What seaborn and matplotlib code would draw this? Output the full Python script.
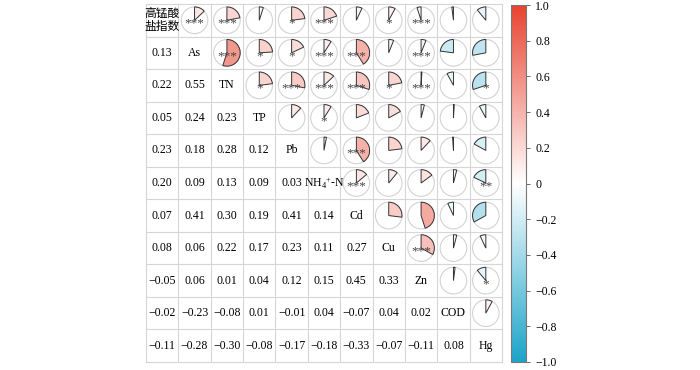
import numpy as np
import pandas as pd
import matplotlib
matplotlib.use("Agg")
import matplotlib.pyplot as plt
from matplotlib.colors import LinearSegmentedColormap, ListedColormap, Normalize
from matplotlib.patches import Wedge, Circle
import matplotlib.cm as cm
import seaborn as sns

labels = ["高锰酸\n盐指数", "As", "TN", "TP", "Pb", r"NH$_4$$^{+}$-N", "Cd", "Cu", "Zn", "COD", "Hg"]

# lower-triangle correlation values, row by row
r_as = [0.13]
r_tn = [0.22, 0.55]
r_tp = [0.05, 0.24, 0.23]
r_pb = [0.23, 0.18, 0.28, 0.12]
r_nh = [0.20, 0.09, 0.13, 0.09, 0.03]
r_cd = [0.07, 0.41, 0.30, 0.19, 0.41, 0.14]
r_cu = [0.08, 0.06, 0.22, 0.17, 0.23, 0.11, 0.27]
r_zn = [-0.05, 0.06, 0.01, 0.04, 0.12, 0.15, 0.45, 0.33]
r_cod = [-0.02, -0.23, -0.08, 0.01, -0.01, 0.04, -0.07, 0.04, 0.02]
r_hg = [-0.11, -0.28, -0.30, -0.08, -0.17, -0.18, -0.33, -0.07, -0.11, 0.08]
lower_rows = [[], r_as, r_tn, r_tp, r_pb, r_nh, r_cd, r_cu, r_zn, r_cod, r_hg]

# significance markers for upper triangle, row by row (columns i+1..10)
s_0 = ["***", "***", "", "*", "***", "", "*", "***", "", ""]
s_1 = ["***", "*", "*", "***", "***", "", "***", "", ""]
s_2 = ["*", "***", "***", "***", "*", "***", "", "*"]
s_3 = ["", "*", "", "", "", "", ""]
s_4 = ["", "***", "", "", "", ""]
s_5 = ["***", "", "", "", "**"]
s_6 = ["", "", "", ""]
s_7 = ["***", "", ""]
s_8 = ["", "*"]
s_9 = [""]
sig_rows = [s_0, s_1, s_2, s_3, s_4, s_5, s_6, s_7, s_8, s_9]

n = len(labels)
R = np.eye(n)
for i, row in enumerate(lower_rows):
    for j, v in enumerate(row):
        R[i, j] = v
        R[j, i] = v

plt.rcParams['font.family'] = ['Liberation Serif', 'Noto Sans CJK SC']
plt.rcParams['mathtext.fontset'] = 'custom'
plt.rcParams['mathtext.rm'] = 'Liberation Serif'
plt.rcParams['mathtext.it'] = 'Liberation Serif:italic'

cmap = LinearSegmentedColormap.from_list("bwr_c", ["#1BA3C8", "#FFFFFF", "#E8432F"])
norm = Normalize(-1, 1)

fig = plt.figure(figsize=(7, 3.7), dpi=100)
ax = fig.add_axes([146/700, 1 - 362/370, 356/700, 358/370])

df = pd.DataFrame(np.zeros((n, n)))
sns.heatmap(df, ax=ax, cmap=ListedColormap(["white"]), cbar=False,
            linewidths=0, xticklabels=False, yticklabels=False)
for k in range(n + 1):
    ax.axhline(k, color="#d6d6d6", lw=0.8, zorder=1, clip_on=False)
    ax.axvline(k, color="#d6d6d6", lw=0.8, zorder=1, clip_on=False)
for sp in ax.spines.values():
    sp.set_visible(False)

rad = 0.41
for i in range(n):
    for j in range(n):
        cx, cy = j + 0.5, i + 0.5
        if i == j:
            ax.text(cx, cy, labels[i], ha="center", va="center", fontsize=8.5,
                    linespacing=1.15)
        elif i > j:
            v = R[i, j]
            txt = f"{v:.2f}".replace("-", "\u2212")
            ax.text(cx, cy, txt, ha="center", va="center", fontsize=8.5)
        else:
            v = R[i, j]
            ax.add_patch(Circle((cx, cy), rad, facecolor="none", edgecolor="#d3d3d3", lw=0.8, zorder=2))
            if v >= 0:
                t1, t2 = -90, -90 + 360 * v
            else:
                t1, t2 = -90 - 360 * abs(v), -90
            ax.add_patch(Wedge((cx, cy), rad, t1, t2, facecolor=cmap(norm(v)),
                               edgecolor="#333333", lw=0.7, zorder=3))
            s = sig_rows[i][j - i - 1]
            if s:
                ax.text(cx, cy + 0.1, s, ha="center", va="center", fontsize=9.5,
                        color="#444444", zorder=4)

ax.set_xlim(0, n)
ax.set_ylim(n, 0)

cax = fig.add_axes([511/700, 1 - 362/370, 15/700, 357/370])
sm = cm.ScalarMappable(norm=norm, cmap=cmap)
cb = fig.colorbar(sm, cax=cax)
ticks = [1.0, 0.8, 0.6, 0.4, 0.2, 0.0, -0.2, -0.4, -0.6, -0.8, -1.0]
tick_text = ["1.0", "0.8", "0.6", "0.4", "0.2", "0", "\u22120.2", "\u22120.4", "\u22120.6", "\u22120.8", "\u22121.0"]
cb.set_ticks(ticks)
cb.set_ticklabels(tick_text)
cb.ax.tick_params(labelsize=8.5, length=3, width=0.6, color="#555555")
cb.outline.set_edgecolor("#777777")
cb.outline.set_linewidth(0.8)

fig.savefig("out.png", dpi=100)
